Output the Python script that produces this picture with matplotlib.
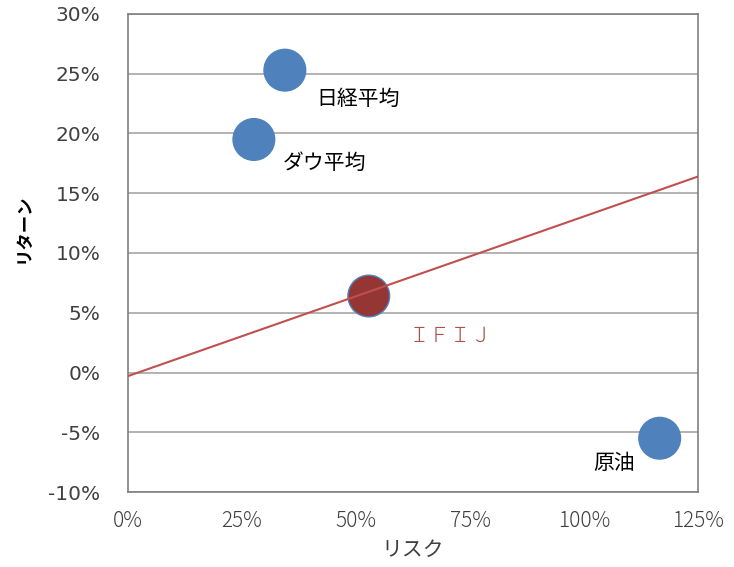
import matplotlib
matplotlib.use("Agg")
import matplotlib.pyplot as plt
from matplotlib.ticker import PercentFormatter

plt.rcParams['font.family'] = ['Noto Sans CJK JP', 'DejaVu Sans']
plt.rcParams['axes.unicode_minus'] = False

names = ['日経平均', 'ダウ平均', 'ＩＦＩＪ', '原油']
risk = [34.4, 27.6, 52.8, 116.6]
ret = [25.3, 19.5, 6.4, -5.5]
colors = ['#4f81bd', '#4f81bd', '#943634', '#4f81bd']
# label offsets in points
offsets = [(23, -21), (21, -17), (29, -29), (-48, -18)]
label_colors = ['black', 'black', '#b0504d', 'black']

# trend line
line_x = [0, 125]
line_y = [-0.3, 16.4]

fig = plt.figure(figsize=(7.34, 5.67), dpi=100)
ax = fig.add_axes([128/734, 1-492/567, 570/734, 478/567])

ax.set_xlim(0, 125)
ax.set_ylim(-10, 30)
ax.set_xticks([0, 25, 50, 75, 100, 125])
ax.set_yticks(range(-10, 31, 5))
ax.xaxis.set_major_formatter(PercentFormatter(decimals=0))
ax.yaxis.set_major_formatter(PercentFormatter(decimals=0))
ax.grid(axis='y', color='#a6a6a6', linewidth=1.2)
ax.set_axisbelow(True)
for s in ax.spines.values():
    s.set_color('#808080')
    s.set_linewidth(1.2)
ax.tick_params(length=0)
ax.tick_params(axis='y', pad=20, labelcolor='#404040')
ax.tick_params(axis='x', pad=13, labelcolor='#404040')
for t in ax.get_yticklabels():
    t.set_family(['DejaVu Sans'])
    t.set_fontsize(14.5)
for t in ax.get_xticklabels():
    t.set_fontsize(15)
    t.set_fontweight('light')

ax.plot(line_x, line_y, color='#c0504d', linewidth=1.5, zorder=3)
ax.scatter(risk, ret, s=900, c=colors, edgecolors='#4f81bd', linewidths=1.0, zorder=2)

for n, x, y, off, c in zip(names, risk, ret, offsets, label_colors):
    ax.annotate(n, (x, y), xytext=off, textcoords='offset points',
                fontsize=15, color=c, va='center', ha='left',
                fontweight='light' if n == 'ＩＦＩＪ' else 'normal')

ax.set_xlabel('リスク', fontsize=15, color='#404040', labelpad=5)
ax.set_ylabel('リターン', fontsize=12.5, fontweight='bold')
ax.yaxis.set_label_coords(-0.168, 0.552)

fig.savefig('out.png', dpi=100)
